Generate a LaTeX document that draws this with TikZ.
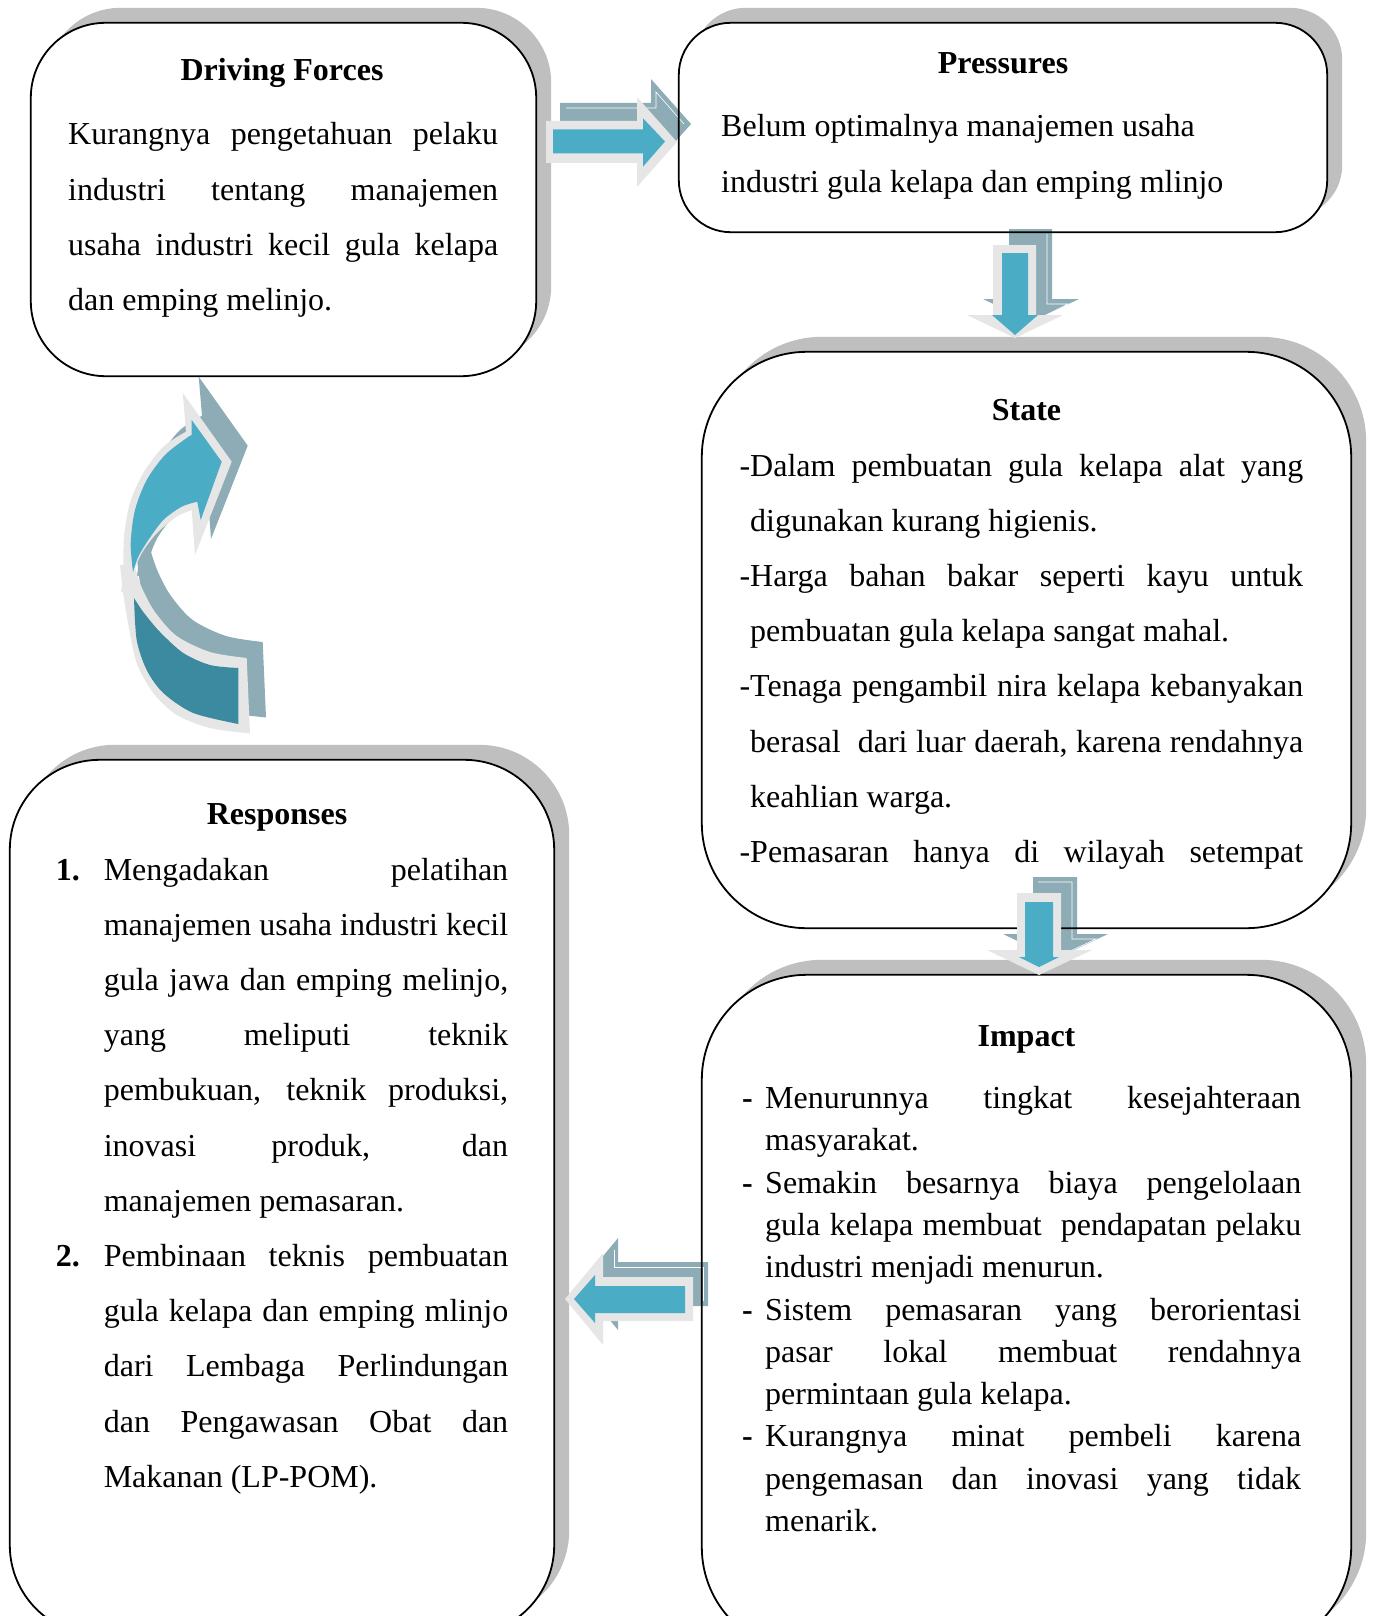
\documentclass[tikz,border=0pt]{standalone}
\usepackage{fontspec}
\setmainfont{Liberation Serif}
\usetikzlibrary{calc}
\definecolor{shadowgray}{HTML}{BFBFBF}
\definecolor{lightout}{HTML}{E6E6E6}
\definecolor{tealA}{HTML}{4BACC6}
\definecolor{tealD}{HTML}{3C8AA0}
\definecolor{backteal}{HTML}{8EACB5}
\newcommand\JLine[1]{\makebox[\linewidth][s]{#1}\par}
\newcommand\PLine[1]{#1\par}
\newcommand\Mk[2]{\llap{\makebox[#1][l]{#2}}}
\newcommand\bodyA{\fontsize{32pt}{55.2pt}\selectfont\parindent=0pt\relax}
\newcommand\bodyB{\fontsize{32pt}{42.3pt}\selectfont\parindent=0pt\relax}
\newcommand\titlefont{\fontsize{32pt}{36pt}\selectfont\bfseries}
% curved arrow pieces
\def\CurvUpper{(195,555) -- (191.7,510) -- plot[smooth] coordinates {(191.7,510) (176.7,516.7) (156.7,533.3) (141.7,553.3) (134,572) (131,592)} -- plot[smooth] coordinates {(121,592) (123.3,570) (124,536.7) (130,503) (143.3,473) (163.3,446.7) (186,431.7)} -- (182.7,392.7) -- (231.7,461.7) -- cycle}
\def\CurvLower{plot[smooth] coordinates {(120,565) (123,592) (128,623) (136.7,663) (153.3,693) (176.7,715) (210,728) (250,733.5)} -- (246.7,658) -- plot[smooth] coordinates {(246.7,658) (210,652) (176.7,636) (155,612) (142,588) (134,565)} -- cycle}
\begin{document}
\begin{tikzpicture}[x=1pt,y=-1pt,
  boxshape/.style={shape=rectangle, inner sep=0pt},
  border/.style={draw=black, line width=1.8pt},
  txt/.style={inner sep=0pt, anchor=base west},
  ttl/.style={inner sep=0pt, anchor=base, font=\titlefont}]
\useasboundingbox (0,0) rectangle (1375,1616);
\clip (0,0) rectangle (1375,1616);

% box geometry
\node[boxshape, minimum width=505pt, minimum height=353pt] (df) at (283.5,199.5) {};
\node[boxshape, minimum width=648pt, minimum height=209pt] (pr) at (1003,127.5) {};
\node[boxshape, minimum width=649pt, minimum height=576pt] (st) at (1026.5,640) {};
\node[boxshape, minimum width=649pt, minimum height=677pt] (im) at (1026.5,1313.5) {};
\node[boxshape, minimum width=544pt, minimum height=875pt] (re) at (282,1197.5) {};

% shadows
\fill[shadowgray, rounded corners=75pt] ($(df.north west)+(15,-15)$) rectangle ($(df.south east)+(15,-15)$);
\fill[shadowgray, rounded corners=52pt] ($(pr.north west)+(15,-15)$) rectangle ($(pr.south east)+(15,-15)$);
\fill[shadowgray, rounded corners=105pt] ($(st.north west)+(15,-15)$) rectangle ($(st.south east)+(15,-15)$);
\fill[shadowgray, rounded corners=105pt] ($(im.north west)+(15,-15)$) rectangle ($(im.south east)+(15,-15)$);
\fill[shadowgray, rounded corners=90pt] ($(re.north west)+(15,-15)$) rectangle ($(re.south east)+(15,-15)$);

% fills
\fill[white, rounded corners=75pt] (df.north west) rectangle (df.south east);
\fill[white, rounded corners=52pt] (pr.north west) rectangle (pr.south east);
\fill[white, rounded corners=105pt] (st.north west) rectangle (st.south east);
\fill[white, rounded corners=105pt] (im.north west) rectangle (im.south east);
\fill[white, rounded corners=90pt] (re.north west) rectangle (re.south east);

% back arrows
\fill[backteal] (560,103) -- (651,103) -- (651,79) -- (691,124) -- (651,169) -- (651,145) -- (560,145) -- cycle;
\draw[white, line width=0.6pt] (566,108) -- (656,108) -- (656,92) -- (684,124);
\fill[backteal] (1009,229) -- (1052,229) -- (1052,299) -- (1079,299) -- (1031,322) -- (983,299) -- (1009,299) -- cycle;
\draw[white, line width=0.6pt] (1047,234) -- (1047,304) -- (1068,304) -- (1046,315);
\fill[backteal] (1033,877) -- (1077,877) -- (1077,934) -- (1108,934) -- (1055,959) -- (1003,934) -- (1033,934) -- cycle;
\draw[white, line width=0.6pt] (1038,882) -- (1072,882) -- (1072,939) -- (1096,939) -- (1066,953);
\fill[backteal] (708,1262) -- (618,1262) -- (618,1238) -- (580,1284) -- (618,1330) -- (618,1306) -- (708,1306) -- cycle;
\draw[white, line width=0.6pt] (614,1250) -- (614,1267) -- (703,1267) -- (703,1301);
\fill[backteal, shift={(16,-16)}] \CurvLower;
\fill[backteal, shift={(16,-16)}] \CurvUpper;

% borders
\draw[border, rounded corners=75pt] (df.north west) rectangle (df.south east);
\draw[border, rounded corners=52pt] (pr.north west) rectangle (pr.south east);
\draw[border, rounded corners=105pt] (st.north west) rectangle (st.south east);
\draw[border, rounded corners=105pt] (im.north west) rectangle (im.south east);
\draw[border, rounded corners=90pt] (re.north west) rectangle (re.south east);

% front arrows
\fill[lightout] (546,121) -- (637,121) -- (637,97) -- (677,142) -- (637,187) -- (637,163) -- (546,163) -- cycle;
\fill[tealA] (553,129.3) -- (643,129.3) -- (643,118.3) -- (665,141.5) -- (643,166.7) -- (643,153.3) -- (553,153.3) -- cycle;

\fill[lightout] (993,245) -- (1036,245) -- (1036,315) -- (1063,315) -- (1015,338) -- (967,315) -- (993,315) -- cycle;
\fill[tealA] (1002,253) -- (1028,253) -- (1028,315) -- (1038,315) -- (1015,335) -- (992,315) -- (1002,315) -- cycle;

\fill[lightout] (1017,893) -- (1061,893) -- (1061,950) -- (1092,950) -- (1039,975) -- (987,950) -- (1017,950) -- cycle;
\fill[tealA] (1025,902) -- (1053,902) -- (1053,957) -- (1059,957) -- (1039,967) -- (1019,957) -- (1025,957) -- cycle;

\fill[lightout] (693,1277) -- (603,1277) -- (603,1253) -- (565,1299) -- (603,1345) -- (603,1321) -- (693,1321) -- cycle;
\fill[tealA] (685,1286) -- (595,1286) -- (595,1275) -- (574,1299) -- (595,1323) -- (595,1313) -- (685,1313) -- cycle;

\fill[lightout] \CurvLower;
\fill[lightout] \CurvUpper;
\fill[tealD] plot[smooth] coordinates {(134,598) (136.7,640) (146.7,670) (163.3,693) (193.3,713) (238.3,724)} -- (238.3,668) -- plot[smooth] coordinates {(238.3,668) (210,665) (183.3,653) (160,632) (143.3,612) (134,598)} -- cycle;
\fill[tealA] plot[smooth] coordinates {(133,572) (130.7,543) (135,510) (146.7,480) (165,455) (186.7,438) (191.7,435)} -- (191.7,420) -- (221.7,461.7) -- (200.7,520) -- (197.3,501.7) -- plot[smooth] coordinates {(197.3,501.7) (181.7,506.7) (163.3,520) (148.3,540) (138.3,556.7) (133,572)} -- cycle;

% titles
\node[ttl] (dft) at (282,81) {Driving Forces};
\node[ttl] (prt) at (1003,74) {Pressures};
\node[ttl] (stt) at (1026.5,420) {State};
\node[ttl] (imt) at (1026.5,1046) {Impact};
\node[ttl] (ret) at (277,824.6) {Responses};

% body texts
\node[txt] (dfb) at (68,145) {\begin{minipage}[t]{430pt}\bodyA
\JLine{Kurangnya pengetahuan pelaku}
\JLine{industri tentang manajemen}
\JLine{usaha industri kecil gula kelapa}
\PLine{dan emping melinjo.}
\end{minipage}};

\node[txt] (prb) at (721,137) {\begin{minipage}[t]{600pt}\bodyA
\PLine{Belum optimalnya manajemen usaha}
\PLine{industri gula kelapa dan emping mlinjo}
\end{minipage}};

\node[txt] (stb) at (750,476) {\begin{minipage}[t]{553pt}\bodyA
\JLine{\llap{-}Dalam pembuatan gula kelapa alat yang}
\PLine{digunakan kurang higienis.}
\JLine{\llap{-}Harga bahan bakar seperti kayu untuk}
\PLine{pembuatan gula kelapa sangat mahal.}
\JLine{\llap{-}Tenaga pengambil nira kelapa kebanyakan}
\JLine{berasal\ \ dari luar daerah, karena rendahnya}
\PLine{keahlian warga.}
\JLine{\llap{-}Pemasaran hanya di wilayah setempat}
\end{minipage}};

\node[txt] (imb) at (765,1108.5) {\begin{minipage}[t]{536pt}\bodyB
\JLine{\Mk{23pt}{\textbf{-}}Menurunnya tingkat kesejahteraan}
\PLine{masyarakat.}
\JLine{\Mk{23pt}{\textbf{-}}Semakin besarnya biaya pengelolaan}
\JLine{gula kelapa membuat\ \ pendapatan pelaku}
\PLine{industri menjadi menurun.}
\JLine{\Mk{23pt}{\textbf{-}}Sistem pemasaran yang berorientasi}
\JLine{pasar lokal membuat rendahnya}
\PLine{permintaan gula kelapa.}
\JLine{\Mk{23pt}{\textbf{-}}Kurangnya minat pembeli karena}
\JLine{pengemasan dan inovasi yang tidak}
\PLine{menarik.}
\end{minipage}};

\node[txt] (reb) at (103.6,880) {\begin{minipage}[t]{404.4pt}\bodyA
\JLine{\Mk{48pt}{\textbf{1.}}Mengadakan pelatihan}
\JLine{manajemen usaha industri kecil}
\JLine{gula jawa dan emping melinjo,}
\JLine{yang meliputi teknik}
\JLine{pembukuan, teknik produksi,}
\JLine{inovasi produk, dan}
\PLine{manajemen pemasaran.}
\JLine{\Mk{48pt}{\textbf{2.}}Pembinaan teknis pembuatan}
\JLine{gula kelapa dan emping mlinjo}
\JLine{dari Lembaga Perlindungan}
\JLine{dan Pengawasan Obat dan}
\PLine{Makanan (LP-POM).}
\end{minipage}};
\end{tikzpicture}
\end{document}
